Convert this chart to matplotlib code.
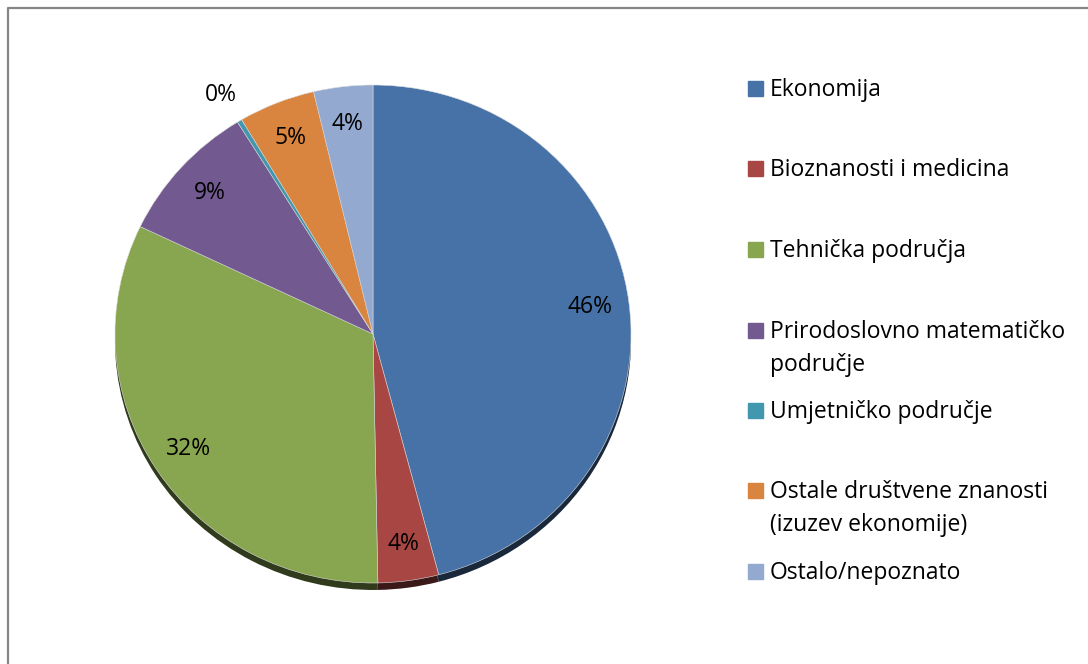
import numpy as np
import matplotlib
matplotlib.use('Agg')
import matplotlib.pyplot as plt
from matplotlib.lines import Line2D
from matplotlib.patches import Rectangle

plt.rcParams['font.family'] = ['Open Sans', 'DejaVu Sans']

# data (shares in %)
labels = ['Ekonomija', 'Bioznanosti i medicina', 'Tehnička područja',
          'Prirodoslovno matematičko\npodručje', 'Umjetničko područje',
          'Ostale društvene znanosti\n(izuzev ekonomije)', 'Ostalo/nepoznato']
shares = [45.9, 3.8, 32.4, 9.1, 0.3, 4.8, 3.7]
colors = ['#4672A8', '#A84644', '#88A54F', '#725A90', '#4097AE', '#DA853F', '#93A9D0']

W, H = 1088, 664
fig = plt.figure(figsize=(W / 100, H / 100), dpi=100)

# pie geometry in pixels (slightly tilted, so a bit flatter than wide)
cx, cy, Rx, Ry = 373, 334, 258, 249
half = 300
ax = fig.add_axes([(cx - half) / W, (H - cy - half) / H, 2 * half / W, 2 * half / H])

# shadow / 3d rim
dark = [tuple(np.array(matplotlib.colors.to_rgb(c)) * 0.35) for c in colors]
ax.pie(shares, colors=dark, startangle=90, counterclock=False,
       center=(0, -0.028), radius=1.0, wedgeprops=dict(linewidth=0))

wedges, texts, autotexts = ax.pie(
    shares, colors=colors, startangle=90, counterclock=False,
    radius=1.0, autopct='%.0f%%', pctdistance=0.85,
    wedgeprops=dict(linewidth=0.4, edgecolor='#dddddd'),
    textprops=dict(fontsize=16.5, color='black'))

ax.set_xlim(-half / Rx, half / Rx)
ax.set_ylim(-half / Ry, half / Ry)
ax.set_aspect('auto')
ax.axis('off')

# the tiny slice gets its label outside
for w, t, v in zip(wedges, autotexts, shares):
    if v < 1:
        ang = np.deg2rad((w.theta1 + w.theta2) / 2)
        t.set_position((1.14 * np.cos(ang), 1.12 * np.sin(ang)))

# legend drawn by hand to copy the spacing of the original
leg_y = [89, 169, 250, 331, 411, 491, 572]
for lab, c, y in zip(labels, colors, leg_y):
    fig.add_artist(Rectangle((748 / W, 1 - (y + 7) / H), 15 / W, 15 / H,
                             transform=fig.transFigure, color=c))
    for i, line in enumerate(lab.split('\n')):
        fig.text(770 / W, 1 - (y + 7 + 33 * i) / H, line, fontsize=16.5,
                 va='baseline', ha='left')

# outer frame (only top and left edges are visible)
fig.add_artist(Line2D([7.5 / W, 7.5 / W, 1], [0, 1 - 7.5 / H, 1 - 7.5 / H],
                      transform=fig.transFigure, color='#868686', lw=1.6))

fig.savefig('out.png', dpi=100)
